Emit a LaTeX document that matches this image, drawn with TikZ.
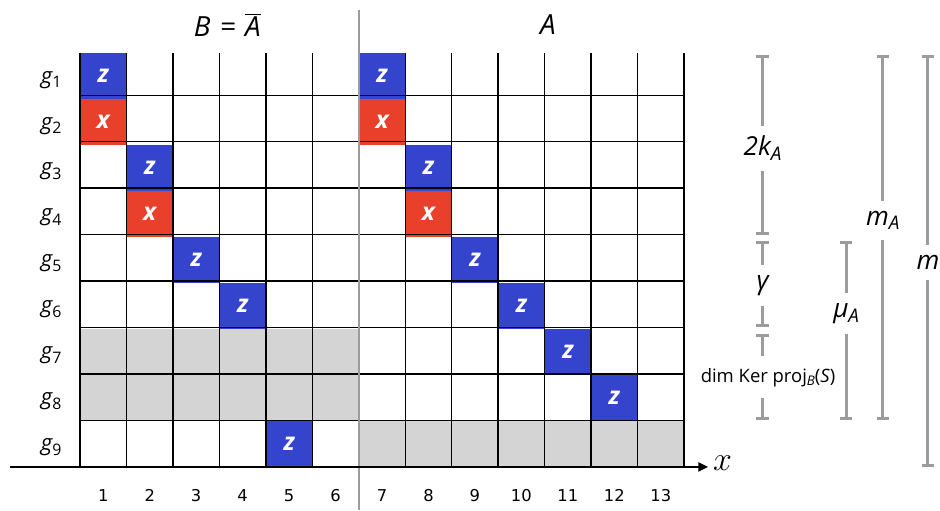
\documentclass[tikz,border=0pt]{standalone}
\usepackage{fontspec}
\setmainfont{Open Sans}
\newfontfamily\numfont{DejaVu Sans}
\usetikzlibrary{arrows.meta}
\definecolor{zblue}{HTML}{3444CC}
\definecolor{xred}{HTML}{E8402A}
\definecolor{greyfill}{HTML}{D4D4D4}
\definecolor{rulegrey}{HTML}{9C9C9C}
\newcommand{\lowsub}[1]{\raisebox{-0.35ex}{\scalebox{0.72}{#1}}}

\begin{document}
\begin{tikzpicture}[x=1cm,y=0.99cm,
  cell/.style={minimum width=1cm, minimum height=0.99cm, inner sep=0pt, text=white,
    font=\fontsize{15}{15}\selectfont\bfseries\itshape},
  zcell/.style={cell, fill=zblue},
  xcell/.style={cell, fill=xred},
  colnum/.style={font=\numfont\fontsize{10}{12}\selectfont},
  rowlab/.style={font=\fontsize{13.5}{15}\selectfont\itshape},
  title/.style={font=\fontsize{17}{20}\selectfont\itshape},
  sizebar/.style={draw=rulegrey, line width=1.8pt},
  topbar/.style={sizebar, {Bar[width=7.5pt]}-},
  botbar/.style={sizebar, -{Bar[width=7.5pt]}},
  barlab/.style={inner xsep=0pt, inner ysep=6pt, font=\fontsize{16}{18}\selectfont\itshape}]
\useasboundingbox (-1.722,-0.942) rectangle (18.51,10.152);

%%% shaded rows
\fill[greyfill] (0,1) rectangle (6,3);
\fill[greyfill] (6,0) rectangle (13,1);

%%% block B
\node[zcell] (zb1) at (0.5,8.5) {z};
\node[xcell] (xb1) at (0.5,7.5) {x};
\node[zcell] (zb2) at (1.5,6.5) {z};
\node[xcell] (xb2) at (1.5,5.5) {x};
\node[zcell] (zb3) at (2.5,4.5) {z};
\node[zcell] (zb4) at (3.5,3.5) {z};
\node[zcell] (zb5) at (4.5,0.5) {z};

%%% block A
\node[zcell] (za1) at (6.5,8.5) {z};
\node[xcell] (xa1) at (6.5,7.5) {x};
\node[zcell] (za2) at (7.5,6.5) {z};
\node[xcell] (xa2) at (7.5,5.5) {x};
\node[zcell] (za3) at (8.5,4.5) {z};
\node[zcell] (za4) at (9.5,3.5) {z};
\node[zcell] (za5) at (10.5,2.5) {z};
\node[zcell] (za6) at (11.5,1.5) {z};

\draw[line width=0.9pt] (0,0) grid (13,9);

%%% split and axis
\coordinate (sptop) at (6,9.93);
\coordinate (spbot) at (6,-0.942);
\draw[rulegrey, line width=1.3pt] (sptop) -- (spbot);
\coordinate (axl) at (-1.507,0);
\coordinate (axr) at (13.52,0);
\draw[line width=1.4pt, -{Triangle[length=6pt,width=5.5pt]}] (axl) -- (axr);
\node[font=\fontsize{20}{20}\selectfont] (xlab) at (13.83,0.08) {$x$};

\node[title] (tb) at (3.17,9.61) {B\,\,=\,\,$\overline{\mbox{\itshape A}}$};
\node[title] (ta) at (10.07,9.61) {A};

%%% row labels
\node[rowlab] (r1) at (-0.62,8.42) {g\lowsub{\upshape 1}};
\node[rowlab] (r2) at (-0.62,7.42) {g\lowsub{\upshape 2}};
\node[rowlab] (r3) at (-0.62,6.42) {g\lowsub{\upshape 3}};
\node[rowlab] (r4) at (-0.62,5.42) {g\lowsub{\upshape 4}};
\node[rowlab] (r5) at (-0.62,4.42) {g\lowsub{\upshape 5}};
\node[rowlab] (r6) at (-0.62,3.42) {g\lowsub{\upshape 6}};
\node[rowlab] (r7) at (-0.62,2.42) {g\lowsub{\upshape 7}};
\node[rowlab] (r8) at (-0.62,1.42) {g\lowsub{\upshape 8}};
\node[rowlab] (r9) at (-0.62,0.42) {g\lowsub{\upshape 9}};

%%% column numbers
\node[colnum] (c1) at (0.5,-0.616) {1};
\node[colnum] (c2) at (1.5,-0.616) {2};
\node[colnum] (c3) at (2.5,-0.616) {3};
\node[colnum] (c4) at (3.5,-0.616) {4};
\node[colnum] (c5) at (4.5,-0.616) {5};
\node[colnum] (c6) at (5.5,-0.616) {6};
\node[colnum] (c7) at (6.5,-0.616) {7};
\node[colnum] (c8) at (7.5,-0.616) {8};
\node[colnum] (c9) at (8.5,-0.616) {9};
\node[colnum] (c10) at (9.5,-0.616) {10};
\node[colnum] (c11) at (10.5,-0.616) {11};
\node[colnum] (c12) at (11.5,-0.616) {12};
\node[colnum] (c13) at (12.5,-0.616) {13};

%%% sizes on the right
\coordinate (kt) at (14.69,8.96);
\coordinate (kb) at (14.69,5.04);
\node[barlab] (klab) at (14.69,6.93) {2k\lowsub{A}};
\draw[topbar] (kt) -- (klab.north);
\draw[botbar] (klab.south) -- (kb);

\coordinate (gt) at (14.69,4.91);
\coordinate (gb) at (14.69,3.04);
\node[barlab] (glab) at (14.69,3.95) {γ};
\draw[topbar] (gt) -- (glab.north);
\draw[botbar] (glab.south) -- (gb);

\coordinate (dt) at (14.69,2.89);
\coordinate (db) at (14.69,1.02);
\node[barlab, inner ysep=7pt, font=\fontsize{11.3}{13}\selectfont] (dlab) at (14.81,1.95)
  {dim Ker proj\lowsub{\itshape B}(\textit{S})};
\draw[topbar] (dt) -- (dt|-dlab.north);
\draw[botbar] (db|-dlab.south) -- (db);

\coordinate (mut) at (16.49,4.91);
\coordinate (mub) at (16.49,1.02);
\node[barlab] (mulab) at (16.49,3.34) {μ\lowsub{A}};
\draw[topbar] (mut) -- (mulab.north);
\draw[botbar] (mulab.south) -- (mub);

\coordinate (mat) at (17.28,8.96);
\coordinate (mab) at (17.28,1.02);
\node[barlab] (malab) at (17.28,5.36) {m\lowsub{A}};
\draw[topbar] (mat) -- (malab.north);
\draw[botbar] (malab.south) -- (mab);

\coordinate (mt) at (18.25,8.96);
\coordinate (mb) at (18.25,0);
\node[barlab] (mlab) at (18.25,4.45) {m};
\draw[topbar] (mt) -- (mlab.north);
\draw[botbar] (mlab.south) -- (mb);
\end{tikzpicture}
\end{document}
